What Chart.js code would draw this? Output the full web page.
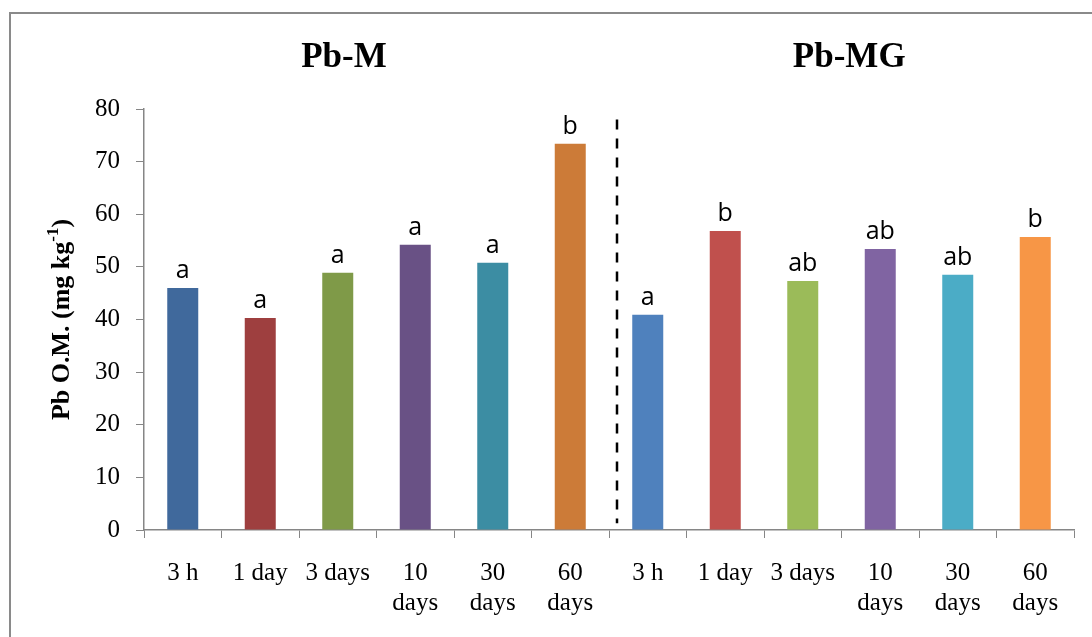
<!DOCTYPE html>
<html>
<head>
<meta charset="utf-8">
<script src="https://cdn.jsdelivr.net/npm/chart.js@4/dist/chart.umd.min.js"></script>
<style>
  body { margin: 0; background: #fff; }
</style>
</head>
<body>
<canvas id="myChart" width="1092" height="637"></canvas>
<script>
// sampling times, same six for both treatments
const timeLabels = ['3 h', '1 day', '3 days', ['10', 'days'], ['30', 'days'], ['60', 'days'],
                    '3 h', '1 day', '3 days', ['10', 'days'], ['30', 'days'], ['60', 'days']];
const pbValues = [46.0, 40.3, 48.9, 54.2, 50.8, 73.4,
                  40.9, 56.8, 47.3, 53.4, 48.5, 55.7];
const letters = ['a', 'a', 'a', 'a', 'a', 'b',
                 'a', 'b', 'ab', 'ab', 'ab', 'b'];
const groupNames = ['Pb-M', 'Pb-MG'];
const barColors = ['#40699C', '#9E3F3F', '#7F9A48', '#695185', '#3C8DA3', '#CC7B38',
                   '#4F81BD', '#C0504D', '#9BBB59', '#8064A2', '#4BACC6', '#F79646'];

const axisGrey = '#868686';

const extras = {
    id: 'extras',
    beforeDraw(chart) {
        const c = chart.ctx;
        c.save();
        c.strokeStyle = '#8a8a8a';
        c.lineWidth = 2;
        c.beginPath();
        c.moveTo(10, chart.height);
        c.lineTo(10, 13);
        c.lineTo(chart.width, 13);
        c.stroke();
        c.restore();
    },
    afterDatasetsDraw(chart) {
        const c = chart.ctx;
        const xs = chart.scales.x, ys = chart.scales.y;
        const area = chart.chartArea;
        c.save();

        // letters over the bars
        c.fillStyle = '#000';
        c.font = '25px "Open Sans"';
        c.textAlign = 'center';
        c.textBaseline = 'alphabetic';
        chart.getDatasetMeta(0).data.forEach((bar, i) => {
            c.fillText(letters[i], bar.x, bar.y - 10);
        });

        // dashed separator between the two treatments
        const dx = Math.round(xs.getPixelForValue(5.6));
        c.strokeStyle = '#000';
        c.lineWidth = 2.5;
        c.setLineDash([10, 9]);
        c.beginPath();
        c.moveTo(dx, ys.getPixelForValue(78));
        c.lineTo(dx, ys.getPixelForValue(1.3));
        c.stroke();
        c.setLineDash([]);

        // group headings
        c.font = 'bold 35px "Liberation Serif"';
        c.fillText(groupNames[0], xs.getPixelForValue(2.08), area.top - 42);
        c.fillText(groupNames[1], xs.getPixelForValue(8.6), area.top - 42);

        // y axis title with superscript
        c.translate(area.left - 82, (area.top + area.bottom) / 2);
        c.rotate(-Math.PI / 2);
        const big = 'bold 26px "Liberation Serif"', small = 'bold 17px "Liberation Serif"';
        const p1 = 'Pb O.M. (mg kg', p2 = '-1', p3 = ')';
        c.font = big; const w1 = c.measureText(p1).width, w3 = c.measureText(p3).width;
        c.font = small; const w2 = c.measureText(p2).width;
        let x = -(w1 + w2 + w3) / 2;
        c.textAlign = 'left';
        c.textBaseline = 'middle';
        c.font = big; c.fillText(p1, x, 0); x += w1;
        c.font = small; c.fillText(p2, x, -8); x += w2;
        c.font = big; c.fillText(p3, x, 0);
        c.restore();
    }
};

const ctx = document.getElementById('myChart').getContext('2d');
const myChart = new Chart(ctx, {
    type: 'bar',
    data: {
        labels: timeLabels,
        datasets: [{
            data: pbValues,
            backgroundColor: barColors,
            barPercentage: 0.5,
            categoryPercentage: 0.8
        }]
    },
    options: {
        responsive: false,
        animation: false,
        layout: { padding: { top: 109, right: 18, left: 0, bottom: 0 } },
        plugins: {
            legend: { display: false },
            tooltip: { enabled: false }
        },
        scales: {
            x: {
                afterFit: s => { s.height = 107; },
                grid: { drawOnChartArea: false, color: axisGrey, tickLength: 8 },
                border: { color: axisGrey, width: 1.5 },
                ticks: {
                    color: '#000',
                    padding: 20,
                    maxRotation: 0,
                    autoSkip: false,
                    font: { family: 'Liberation Serif', size: 25, lineHeight: 1.2 }
                }
            },
            y: {
                min: 0,
                max: 80,
                afterFit: s => { s.width = 144; },
                grid: { drawOnChartArea: false, color: axisGrey, tickLength: 8 },
                border: { color: axisGrey, width: 1.5 },
                ticks: {
                    stepSize: 10,
                    color: '#000',
                    padding: 16,
                    font: { family: 'Liberation Serif', size: 25 }
                }
            }
        }
    },
    plugins: [extras]
});
</script>
</body>
</html>
